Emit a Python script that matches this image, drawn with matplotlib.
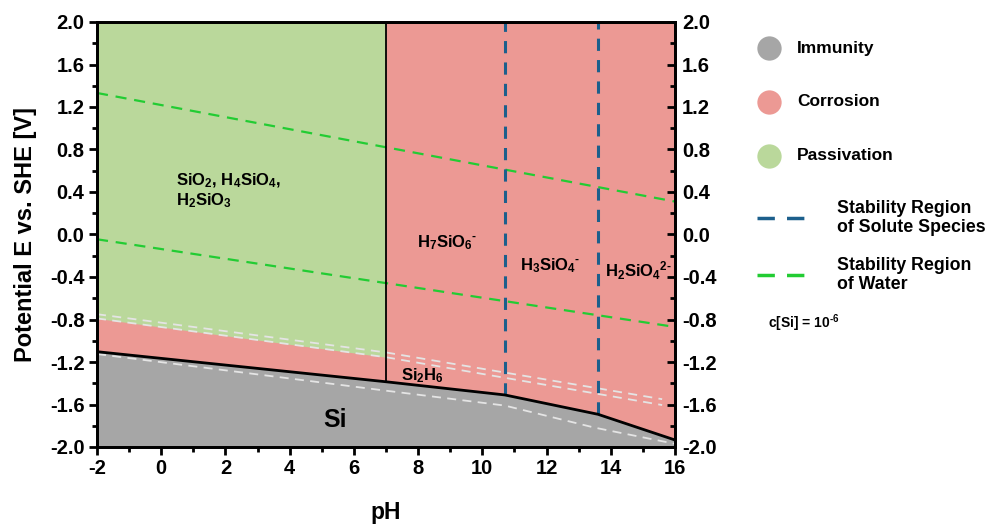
#!/usr/bin/env python
"""
Pourbaix diagram of silicon, c[Si] = 1e-6
"""
import matplotlib
matplotlib.use('Agg')
import matplotlib.pyplot as plt
from matplotlib.ticker import MultipleLocator, FormatStrFormatter

plt.rcParams['font.family'] = ['Liberation Sans', 'DejaVu Sans']
plt.rcParams['font.weight'] = 'bold'
plt.rcParams['axes.labelweight'] = 'bold'
plt.rcParams['axes.unicode_minus'] = False
plt.rcParams['mathtext.fontset'] = 'custom'
plt.rcParams['mathtext.rm'] = 'Liberation Sans:bold'
plt.rcParams['mathtext.bf'] = 'Liberation Sans:bold'
plt.rcParams['mathtext.default'] = 'bf'

PH_MIN, PH_MAX = -2, 16
E_MIN, E_MAX = -2.0, 2.0

# immunity / corrosion boundary (black line)
si_ph = [-2, 7, 10.7, 13.6, 16]
si_e = [-1.103, -1.386, -1.51, -1.692, -1.934]

# passivation / corrosion boundary (bottom of green region)
pass_ph = [-2, 7]
pass_e = [-0.79, -1.155]

# species boundaries (vertical lines)
solid_ph = 7.0
solute_ph = [10.7, 13.6]
solute_e_low = [-1.51, -1.692]

# water stability lines
water_ph = [-2, 16]
water_o2 = [1.332, 0.31]
water_h2 = [-0.045, -0.87]

# light dashed lines
white_ph_a = [-2, 7, 15.6]
white_e_a = [-0.75, -1.11, -1.55]
white_e_b = [-0.79, -1.155, -1.605]
white_ph_c = [-2, 7, 10.7, 13.5, 16]
white_e_c = [-1.125, -1.47, -1.61, -1.818, -1.97]

C_IMM = '#a6a6a6'
C_COR = '#ec9994'
C_PAS = '#bad89b'
C_BLUE = '#1c5f8c'
C_WATER = '#22cc33'
C_WHITE = '#e4e4e4'

fig = plt.figure(figsize=(9.87, 5.26), dpi=100)
ax = fig.add_axes([97 / 987, 1 - 447 / 526, 578 / 987, 425 / 526])

###### regions ######
ax.fill_between(si_ph, si_e, E_MAX, color=C_COR, lw=0, zorder=1)
ax.fill_between(si_ph, E_MIN, si_e, color=C_IMM, lw=0, zorder=1)
ax.fill_between(pass_ph, pass_e, E_MAX, color=C_PAS, lw=0, zorder=1)

###### lines ######
ax.plot(water_ph, water_o2, color=C_WATER, lw=1.6, dashes=(5, 3.5), zorder=3)
ax.plot(water_ph, water_h2, color=C_WATER, lw=1.6, dashes=(5, 3.5), zorder=3)
ax.plot(white_ph_a, white_e_a, color=C_WHITE, lw=1.3, dashes=(5, 3.5), zorder=3)
ax.plot(white_ph_a, white_e_b, color=C_WHITE, lw=1.3, dashes=(5, 3.5), zorder=3)
ax.plot(white_ph_c, white_e_c, color=C_WHITE, lw=1.3, dashes=(5, 3.5), zorder=3)
for p, e in zip(solute_ph, solute_e_low):
    ax.plot([p, p], [e, E_MAX], color=C_BLUE, lw=2.2, dashes=(4, 3), zorder=4)
ax.plot([solid_ph, solid_ph], [si_e[1], E_MAX], color='black', lw=1.3, zorder=5)
ax.plot(si_ph, si_e, color='black', lw=2.0, zorder=5)

###### region labels ######
ax.text(0.45, 0.51, r'$SiO_2$, $H_4SiO_4$,', fontsize=12, va='center', ha='left', zorder=6)
ax.text(0.45, 0.32, r'$H_2SiO_3$', fontsize=12, va='center', ha='left', zorder=6)
ax.text(8.9, -0.08, r'$H_7SiO_6{}^{\text{-}}$', fontsize=12, va='center', ha='center', zorder=6)
ax.text(12.1, -0.29, r'$H_3SiO_4{}^{\text{-}}$', fontsize=12, va='center', ha='center', zorder=6)
ax.text(14.85, -0.34, r'$H_2SiO_4{}^{\text{2-}}$', fontsize=12, va='center', ha='center', zorder=6)
ax.text(8.15, -1.33, r'$Si_2H_6$', fontsize=12, va='center', ha='center', zorder=6)
ax.text(5.4, -1.75, 'Si', fontsize=18, va='center', ha='center', zorder=6)

###### axes ######
ax.set_xlim(PH_MIN, PH_MAX)
ax.set_ylim(E_MIN, E_MAX)
ax.xaxis.set_major_locator(MultipleLocator(2))
ax.xaxis.set_minor_locator(MultipleLocator(1))
ax.yaxis.set_major_locator(MultipleLocator(0.4))
ax.yaxis.set_minor_locator(MultipleLocator(0.2))
ax.yaxis.set_major_formatter(FormatStrFormatter('%.1f'))
ax.tick_params(which='major', direction='out', length=6, width=2, labelsize=14.5, pad=3)
ax.tick_params(which='minor', direction='out', length=3.5, width=2)
for s in ax.spines.values():
    s.set_linewidth(2)
    s.set_zorder(10)

ax2 = ax.twinx()
ax2.set_ylim(E_MIN, E_MAX)
ax2.yaxis.set_major_locator(MultipleLocator(0.4))
ax2.yaxis.set_minor_locator(MultipleLocator(0.2))
ax2.yaxis.set_major_formatter(FormatStrFormatter('%.1f'))
ax2.tick_params(which='major', direction='in', length=6, width=2, labelsize=14.5, pad=5)
ax2.tick_params(which='minor', direction='in', length=3.5, width=2)
for s in ax2.spines.values():
    s.set_linewidth(2)

ax.set_xlabel('pH', fontsize=16.5, fontweight='bold', labelpad=16)
ax.set_ylabel('Potential E vs. SHE [V]', fontsize=17, fontweight='bold', labelpad=9)

###### legend (drawn in pixel coordinates) ######
lax = fig.add_axes([0, 0, 1, 1])
lax.set_xlim(0, 987)
lax.set_ylim(526, 0)
lax.axis('off')

legend_fill = [('Immunity', C_IMM), ('Corrosion', C_COR), ('Passivation', C_PAS)]
for i, (lab, col) in enumerate(legend_fill):
    y = 48 + 54 * i
    lax.plot([769], [y], 'o', ms=17.5, color=col, mec='none')
    lax.text(797, y, lab, fontsize=12.5, va='center', ha='left')

legend_lines = [('Stability Region\nof Solute Species', C_BLUE), ('Stability Region\nof Water', C_WATER)]
for i, (lab, col) in enumerate(legend_lines):
    y = 218 + 57 * i
    lax.plot([757, 810], [y, y], color=col, lw=2.5, dashes=(5, 3.5))
    lax.text(837, y, lab, fontsize=12.8, va='center', ha='left', linespacing=1.15)

lax.text(768, 323, r'c[Si] = 10$^{\text{-6}}$', fontsize=10, va='center', ha='left')

plt.savefig('out.png', dpi=100, facecolor='w')
